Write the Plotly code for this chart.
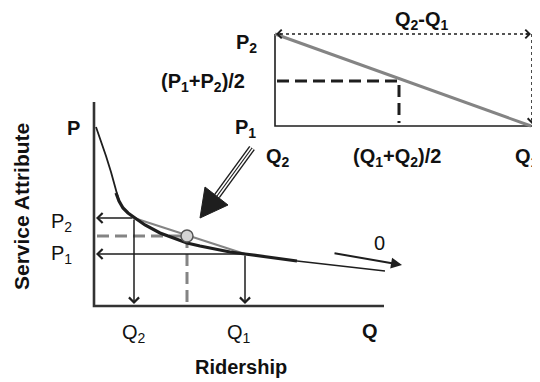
import plotly.graph_objects as go

# ---- schematic data (diagram units = pixels of a 540x382 canvas, y down) ----
# main demand curve (thin steep start, thick body, thin tail)
curve_top_x = [96, 101, 106, 111, 116, 119]
curve_top_y = [127, 141, 156, 172, 190, 201]
curve_x = [116, 119, 123, 128, 135, 145, 160, 175, 187, 200, 215, 230, 245, 270, 297]
curve_y = [193, 201, 208, 213, 218, 225, 233, 239, 243, 246, 249, 252, 254, 257, 261]
tail_x = [297, 385]
tail_y = [261, 271]

# secant (arc elasticity) and midpoint
secant_x = [134, 245]
secant_y = [218, 254]
mid_x = [187]
mid_y = [236]

# main axes
axis_x = [94, 94, 384]
axis_y = [102, 306, 306]

# dashed midpoint guides (main panel)
guide_x = [97, 187, 187]
guide_y = [236, 236, 304]

# inset box
inset_axis_x = [275, 275, 532]
inset_axis_y = [34, 126, 126]
inset_diag_x = [275, 531]
inset_diag_y = [34, 126]
inset_guide_x = [277, 399, 399]
inset_guide_y = [81, 81, 123]
inset_dot_x = [280, 532, 532]
inset_dot_y = [34, 34, 120]

# big pointer arrow
pointer_x = [252, 217]
pointer_y = [148, 196]
head_x = [200, 205, 228, 200]
head_y = [218, 187, 205, 218]

# thin arrows: (tail_x, tail_y, head_x, head_y)
arrows = [
    (134, 218, 96, 218),
    (245, 254, 96, 254),
    (134, 218, 134, 304),
    (245, 254, 245, 304),
]
zero_arrow = (333, 253, 402, 265)
dim_arrows = [(283, 34, 276, 34), (524, 34, 531, 34), (532, 117, 532, 124)]

# labels: (text, x, y, bold)
labels = [
    ("P", 73, 128, True),
    ("P<sub>2</sub>", 61, 222, False),
    ("P<sub>1</sub>", 61, 254, False),
    ("Q<sub>2</sub>", 134, 333, False),
    ("Q<sub>1</sub>", 239, 333, False),
    ("Q", 370, 331, True),
    ("Ridership", 241, 367, True),
    ("0", 379, 243, False),
    ("P<sub>2</sub>", 246, 43, True),
    ("(P<sub>1</sub>+P<sub>2</sub>)/2", 203, 82, True),
    ("P<sub>1</sub>", 245, 128, True),
    ("Q<sub>2</sub>", 278, 157, True),
    ("(Q<sub>1</sub>+Q<sub>2</sub>)/2", 397, 157, True),
    ("Q<sub>1</sub>", 527, 157, True),
    ("Q<sub>2</sub>-Q<sub>1</sub>", 422, 20, True),
]

FONT = "Liberation Sans, Arial, Helvetica, sans-serif"
DARK = "#1e1e1e"
GRAY = "#848484"
PAGE_MARGIN = 8  # default body margin of the html page

fig = go.Figure()

def line(x, y, color, width, dash="solid"):
    fig.add_trace(go.Scatter(x=x, y=y, mode="lines", hoverinfo="skip",
                             line=dict(color=color, width=width, dash=dash)))

line(axis_x, axis_y, "#333333", 2.6)
line(inset_axis_x, inset_axis_y, DARK, 1.6)
line(inset_diag_x, inset_diag_y, GRAY, 3)
line(inset_guide_x, inset_guide_y, DARK, 3, "12px,6px")
line(inset_dot_x, inset_dot_y, DARK, 1.6, "3px,3px")
line(guide_x, guide_y, GRAY, 3, "12px,6px")
line(curve_top_x, curve_top_y, DARK, 1.8)
line(secant_x, secant_y, GRAY, 2)
line(curve_x, curve_y, DARK, 3.2)
line(tail_x, tail_y, DARK, 1.6)

# pointer arrow with hollow triple-line shaft
line(pointer_x, pointer_y, DARK, 7)
line(pointer_x, pointer_y, "white", 4.2)
line(pointer_x, pointer_y, DARK, 1.2)
fig.add_trace(go.Scatter(x=head_x, y=head_y, mode="lines", fill="toself",
                         fillcolor=DARK, line=dict(color=DARK, width=1),
                         hoverinfo="skip"))

# midpoint marker
fig.add_trace(go.Scatter(x=mid_x, y=mid_y, mode="markers", hoverinfo="skip",
                         marker=dict(size=12, color="#d4d4d4",
                                     line=dict(color="#555555", width=1.5))))

for tx, ty, hx, hy in arrows:
    fig.add_annotation(x=hx, y=hy, ax=tx, ay=ty, xref="x", yref="y",
                       axref="x", ayref="y", showarrow=True, text="",
                       arrowhead=4, arrowsize=1.3, arrowwidth=1.5,
                       arrowcolor=DARK, standoff=0, startstandoff=0)

tx, ty, hx, hy = zero_arrow
fig.add_annotation(x=hx, y=hy, ax=tx, ay=ty, xref="x", yref="y",
                   axref="x", ayref="y", showarrow=True, text="",
                   arrowhead=2, arrowsize=1.1, arrowwidth=2,
                   arrowcolor=DARK, standoff=0)

# arrowheads of dotted dimension lines in the inset
for tx, ty, hx, hy in dim_arrows:
    fig.add_annotation(x=hx, y=hy, ax=tx, ay=ty, xref="x", yref="y",
                       axref="x", ayref="y", showarrow=True, text="",
                       arrowhead=4, arrowsize=1.2, arrowwidth=1.4,
                       arrowcolor=DARK, standoff=0)

for text, x, y, bold in labels:
    fig.add_annotation(x=x, y=y, xref="x", yref="y", showarrow=False,
                       text=f"<b>{text}</b>" if bold else text,
                       xanchor="center", yanchor="middle",
                       font=dict(family=FONT, size=20, color="#111111"))

fig.add_annotation(x=21, y=207, xref="x", yref="y", showarrow=False,
                   text="<b>Service Attribute</b>", textangle=-90,
                   xanchor="center", yanchor="middle",
                   font=dict(family=FONT, size=21, color="#111111"))

W, H = 540, 382
fig.update_layout(
    width=W - PAGE_MARGIN, height=H - PAGE_MARGIN,
    margin=dict(l=0, r=0, t=0, b=0),
    paper_bgcolor="white", plot_bgcolor="white", showlegend=False,
    xaxis=dict(range=[PAGE_MARGIN, W], visible=False, fixedrange=True),
    yaxis=dict(range=[H, PAGE_MARGIN], visible=False, fixedrange=True),
)

fig.write_html("out.html")
